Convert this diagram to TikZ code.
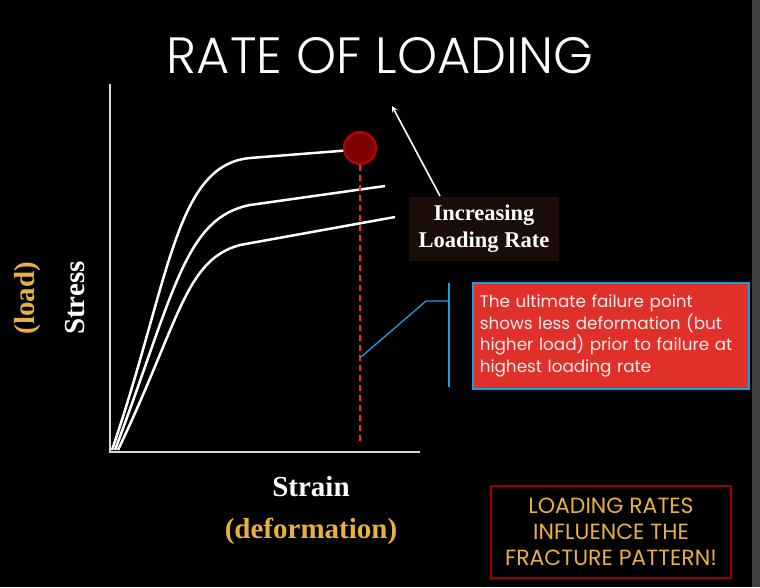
\documentclass[tikz,border=0pt]{standalone}
\usepackage{fontspec}
\setmainfont{Liberation Serif}
\newfontfamily\gothic{Poppins}
\newfontfamily\gothiclight{Poppins Light}
\begin{document}
\begin{tikzpicture}[x=1pt,y=-1pt,
  curve/.style={white,line width=2.5pt},
  lbl/.style={font=\bfseries\fontsize{29}{32}\selectfont},
  orangec/.style={text=orangey}]
\definecolor{orangey}{HTML}{E8B040}
\definecolor{boxred}{HTML}{DF302A}
\definecolor{bluel}{HTML}{1AA0E0}
\fill[black] (0,0) rectangle (760,587);
\useasboundingbox (0,0) rectangle (760,587);
\fill[black!75] (752,0) rectangle (760,587);
\node[white,font=\gothiclight\fontsize{51}{56}\selectfont] (title) at (380,56) {RATE OF LOADING};
% axes
\coordinate (o) at (110,452);
\coordinate (yt) at (110,84);
\coordinate (xr) at (420,452);
\draw[black!15,line width=2pt] (yt) -- (o) -- (xr);
% curves
\draw[curve] (112,450) .. controls (170,280) and (175,165) .. (250,158) -- (352,150);
\draw[curve] (115,450) .. controls (175,290) and (185,218) .. (250,205) -- (385,186);
\draw[curve] (118,450) .. controls (180,320) and (185,260) .. (240,245) -- (395,217);
% failure point
\node[circle,draw=red!75!black,line width=2pt,fill=red!50!black,minimum size=32pt,inner sep=0] (fp) at (360,148) {};
\coordinate (dtop) at (360,165);
\coordinate (dbot) at (360,445);
\draw[red!85!white,dash pattern=on 6pt off 4pt,line width=1.3pt] (dtop) -- (dbot);
% arrow
\coordinate (as) at (440,196);
\coordinate (ae) at (392,106);
\draw[white,line width=1.6pt,-stealth] (as) -- (ae);
\node[fill={rgb,255:red,26;green,12;blue,8},text=white,align=center,minimum width=150pt,minimum height=64pt,font=\bfseries\fontsize{22.5}{27}\selectfont] (inc) at (484,229) {Increasing\\Loading Rate};
% callout
\coordinate (c1) at (361,357);
\coordinate (c2) at (426,301);
\coordinate (c3) at (449,301);
\coordinate (vt) at (449,283);
\coordinate (vb) at (449,387);
\draw[bluel,line width=1.3pt] (c1) -- (c2) -- (c3);
\draw[bluel,line width=1.5pt] (vt) -- (vb);
\node[draw=bluel,line width=1.5pt,fill=boxred,text=white!92!red,anchor=north west,minimum width=276pt,minimum height=106pt,text width=262pt,align=left,font=\gothic\fontsize{16.8}{21.5}\selectfont] (note) at (472,282) {The ultimate failure point\\shows less deformation (but\\higher load) prior to failure at\\highest loading rate};
% labels
\node[lbl,white,rotate=90] (stress) at (75,298) {Stress};
\node[lbl,orangec,rotate=90] (load) at (28,298) {(load)};
\node[lbl,white] (strain) at (311,487) {Strain};
\node[lbl,orangec] (def) at (311,531) {(deformation)};
\node[draw=red!60!black,line width=2pt,fill=black,text=orangey,anchor=north west,minimum width=240pt,minimum height=92pt,align=center,font=\gothic\fontsize{22}{26}\selectfont] (frac) at (490,485) {LOADING RATES\\INFLUENCE THE\\FRACTURE PATTERN!};
\end{tikzpicture}
\end{document}
